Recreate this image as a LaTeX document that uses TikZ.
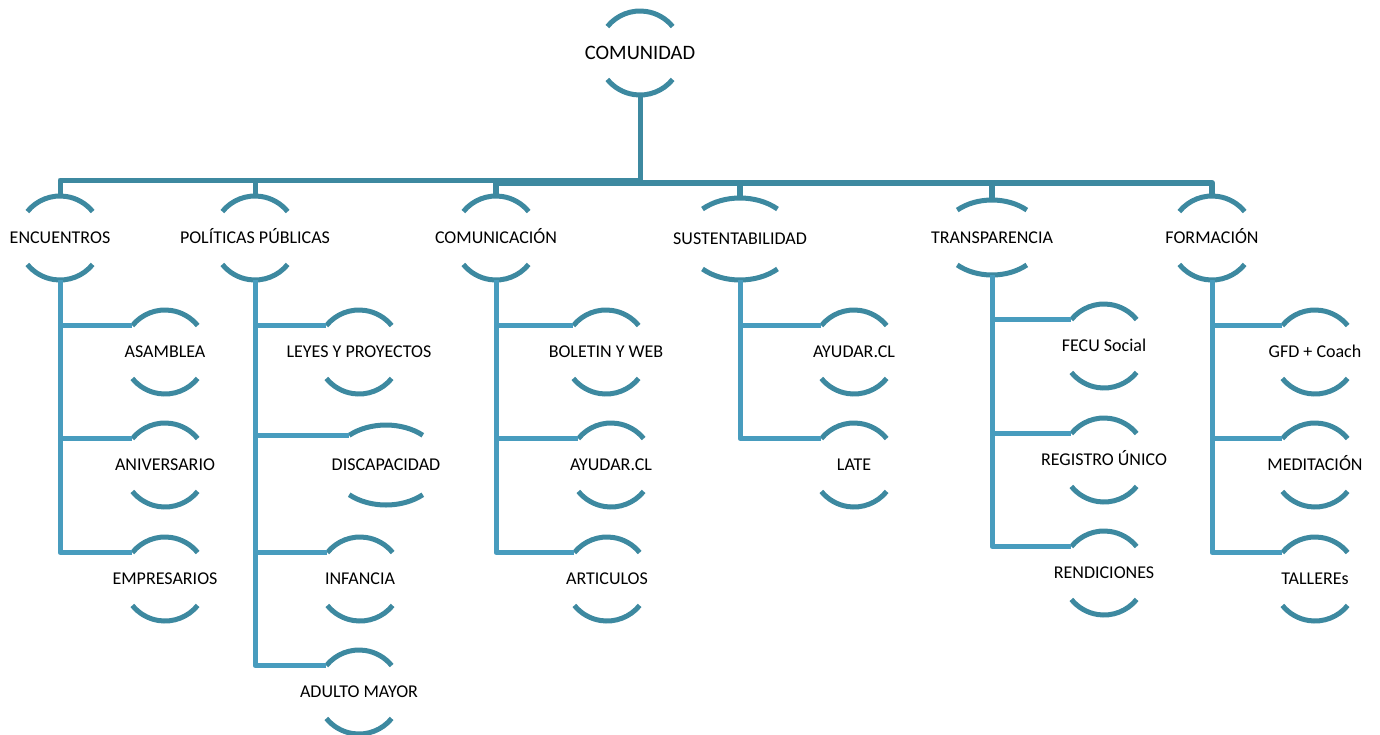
\documentclass[tikz,border=0pt]{standalone}
\usepackage{fontspec}
\setmainfont{Carlito}
\definecolor{tealdark}{RGB}{61,137,160}
\definecolor{teallight}{RGB}{72,156,190}
\tikzset{
  lbl/.style={font=\fontsize{18}{21}\selectfont, inner sep=0pt, anchor=base, yshift=-5.8pt, text=black},
  arcline/.style={draw=tealdark, line width=5pt},
  barline/.style={draw=tealdark, line width=5pt, line join=round},
  barthick/.style={draw=tealdark, line width=6.5pt, line join=round},
  conn/.style={draw=teallight, line width=5pt, line join=round},
}
% #1 label options, #2 name, #3 cx, #4 cy, #5 x radius, #6 y radius, #7 angle, #8 text
\newcommand\bnode[8][]{%
  \node[lbl,#1] (#2) at (#3,#4) {#8};
  \draw[arcline] (#3,#4) ++(180+#7:#5 and #6) coordinate (#2-l)
     arc[start angle=180+#7, end angle=360-#7, x radius=#5, y radius=#6];
  \draw[arcline] (#3,#4) ++(#7:#5 and #6)
     arc[start angle=#7, end angle=180-#7, x radius=#5, y radius=#6];
  \path (#3,#4) ++(0,-#6) coordinate (#2-t);
  \path (#3,#4) ++(0,#6) coordinate (#2-b);
}
\newcommand\snode[5][]{\bnode[#1]{#2}{#3}{#4}{42}{42}{39}{#5}}
\begin{document}
\begin{tikzpicture}[x=1pt,y=-1pt]
\useasboundingbox (0,0) rectangle (1380,734);
% root
\snode[font=\fontsize{20.5}{23}\selectfont, yshift=-0.8pt]{com}{640}{53}{COMUNIDAD}
% level 1
\snode{enc}{60}{238}{ENCUENTROS}
\snode{pol}{255}{238}{POLÍTICAS PÚBLICAS}
\snode{comu}{496}{238}{COMUNICACIÓN}
\bnode{sus}{740}{239}{55}{41}{47}{SUSTENTABILIDAD}
\bnode{tra}{992}{237.5}{51}{37.5}{47}{TRANSPARENCIA}
\snode{form}{1212}{238}{FORMACIÓN}
% hubs
\coordinate (hubL) at (640,180);
\coordinate (hubR) at (640,183);
\draw[barline] (com-b) -- (hubR);
\draw[barline] (enc-t) |- (hubL);
\draw[barline] (pol-t) |- (hubL);
\draw[barthick] (comu-t) |- (hubR);
\draw[barthick] (sus-t) |- (hubR);
\draw[barthick] (tra-t) |- (hubR);
\draw[barthick] (form-t) |- (hubR);
% ENCUENTROS children
\snode{asam}{165}{352}{ASAMBLEA}
\snode{aniv}{165}{465}{ANIVERSARIO}
\snode{empr}{165}{579}{EMPRESARIOS}
\foreach \c in {asam,aniv,empr} \draw[conn] (enc-b) |- (\c-l);
% POLITICAS children
\snode{leyes}{359}{352}{LEYES Y PROYECTOS}
\bnode{disc}{386}{465}{55}{40}{48}{DISCAPACIDAD}
\snode{infa}{360}{579}{INFANCIA}
\snode{adul}{359}{692}{ADULTO MAYOR}
\foreach \c in {leyes,disc,infa,adul} \draw[conn] (pol-b) |- (\c-l);
% COMUNICACION children
\snode{bole}{606}{352}{BOLETIN Y WEB}
\snode{ayu}{611}{465}{AYUDAR.CL}
\snode{arti}{607}{579}{ARTICULOS}
\foreach \c in {bole,ayu,arti} \draw[conn] (comu-b) |- (\c-l);
% SUSTENTABILIDAD children
\snode{ayu2}{854}{352}{AYUDAR.CL}
\snode{late}{854}{465}{LATE}
\foreach \c in {ayu2,late} \draw[conn] (sus-b) |- (\c-l);
% TRANSPARENCIA children
\snode{fecu}{1104}{346}{FECU Social}
\snode{regi}{1104}{460}{REGISTRO ÚNICO}
\snode{rend}{1104}{573}{RENDICIONES}
\foreach \c in {fecu,regi,rend} \draw[conn] (tra-b) |- (\c-l);
% FORMACION children
\snode{gfd}{1315}{352}{GFD + Coach}
\snode{medi}{1315}{465}{MEDITACIÓN}
\snode{tall}{1315}{579}{TALLEREs}
\foreach \c in {gfd,medi,tall} \draw[conn] (form-b) |- (\c-l);
\end{tikzpicture}
\end{document}
